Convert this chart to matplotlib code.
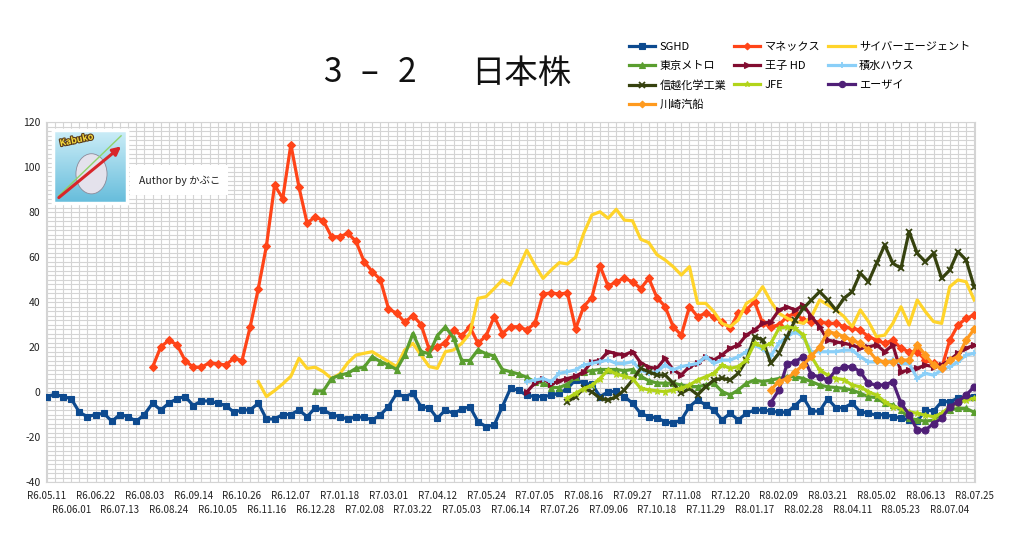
import numpy as np
import matplotlib
matplotlib.use('Agg')
import matplotlib.pyplot as plt
from matplotlib.patches import Rectangle, Ellipse
import matplotlib.patheffects as pe

plt.rcParams['font.family'] = ['Noto Sans CJK JP', 'DejaVu Sans']

# ---------------- data ----------------
tick_labels = ["R6.05.11", "R6.06.01", "R6.06.22", "R6.07.13", "R6.08.03", "R6.08.24",
               "R6.09.14", "R6.10.05", "R6.10.26", "R6.11.16", "R6.12.07", "R6.12.28",
               "R7.01.18", "R7.02.08", "R7.03.01", "R7.03.22", "R7.04.12", "R7.05.03",
               "R7.05.24", "R7.06.14", "R7.07.05", "R7.07.26", "R7.08.16", "R7.09.06",
               "R7.09.27", "R7.10.18", "R7.11.08", "R7.11.29", "R7.12.20", "R8.01.17",
               "R8.02.09", "R8.02.28", "R8.03.21", "R8.04.11", "R8.05.02", "R8.05.23",
               "R8.06.13", "R8.07.04", "R8.07.25"]
weeks_per_label = 3
n_points = (len(tick_labels) - 1) * weeks_per_label + 1

sghd = [-2, -1, -2, -3, -9, -11, -10, -9.5, -13, -10, -11, -13, -10, -5, -8, -5, -3, -2, -6, -4,
        -4, -5, -6, -9, -8, -8, -5, -12, -12, -10, -10, -8, -11, -7, -8, -10, -11, -12, -11,
        -11.3, -12.4, -10.2, -6.5, -0.6, -2.1, -0.6, -6.5, -7, -11.7, -8, -9.5, -7.7, -6.5,
        -13.2, -15.4, -14.7, -6.5, 1.6, 0.8, -1.5, -2, -2, -1.5, -0.5, 1.5, 5.5, 3.8, 3.5, -2,
        0, 0.3, -2, -5, -9.5, -11, -11.5,
        -13.2, -13.9, -12.4, -6.5, -3.5, -5.8, -8, -12.4, -9.5, -12.4, -9.5, -8, -8, -8.5, -9,
        -9, -6, -2.5, -8.5, -8.5, -3, -7, -7, -5, -8.8, -9.5, -10.3, -10, -11, -11.5, -12.5,
        -13, -8, -8.5, -4.3, -4.3, -2.8, -2.1, -2]

monex = [None] * 13 + [
    11, 20, 23, 21, 14, 11, 11, 13, 12.5, 12, 15, 14, 29, 46, 65, 92, 86, 110, 91, 75, 78, 76,
    69, 69, 70.5, 67,
    58, 53.5, 50, 37, 35, 31, 34, 30, 19, 20, 22, 27.6, 25, 29, 21.6, 25, 33.5, 26, 29, 29, 27.6,
    30.5, 43.6, 44, 43.6, 44, 28, 38, 42, 56, 47, 49, 50.5, 49, 46, 50.5,
    42, 38, 29, 25.3, 38, 33.5, 35, 33.5, 31.3, 28.3, 35, 36.5, 40.2, 30.5, 29, 29.8, 33.5, 35,
    32, 31.3, 31.2, 30.5, 30.5, 29, 28.3, 27.5, 24.6, 23.1, 21.6, 23.1, 19.4, 17.9, 17.9, 14.2,
    12.7, 10.5, 23.1, 29.7, 32.7, 34.2]

cyberagent = [None] * 26 + [
    4.6, -2, 0.6, 3.6, 7, 15, 10.5, 11, 9, 6, 8, 13, 16.4, 17.2, 17.9, 15.7, 13.5, 11.3, 18.7,
    21.6, 16.4, 11.3, 10.5, 17.9, 18.7, 21.6, 26, 41.6, 42.4, 46, 49.8, 47.6, 55, 63, 56.4, 50.5,
    54.2, 57.5, 56.9, 59.9, 70.5, 78.7, 80.1, 77.2, 81.2, 76.4, 76.1, 67.9, 66.4, 61, 58.7, 55.7,
    52, 55.7, 39.4, 39.4, 35.7, 30.5, 29, 32, 39.4, 41.6, 46.8, 40.2, 35, 32.8, 31.3, 30.5, 33.5,
    40.9, 38.7, 36.5, 33.5, 29, 36.5, 31.3, 24.6, 25.3, 30.5, 37.9, 29.8, 40.9, 35.7, 31.3, 30.5,
    46.8, 49.8, 49, 40.9]

tokyo_metro = [None] * 33 + [
    0.5, 0.5, 6, 7.5, 8.3, 10.5, 11, 15.7, 13.5, 12, 10, 16.4, 26, 18, 17, 25, 29, 24, 14, 14,
    18.7, 17, 16, 10, 9, 8, 6.5, 4.5, 4, 2, 2, 3.5, 6.5, 9, 9.5, 10, 10, 10, 9.5, 10, 7, 5, 4,
    3.9, 3.9, 3.1, 2.4, 2.4, 3.1, 3.9, 0.2, -1.3, 0.9, 3.9, 5.3, 4.6, 5.3, 6, 6.8, 6.8, 6, 4.6,
    3.1, 2.3, 2, 1.6, 0.9, -0.6, -2.1, -2.5, -5, -5.8, -8, -11.7, -12.4, -13, -12.5, -9.5, -8,
    -7.3, -7.3, -9]

oji = [None] * 59 + [
    0, 4, 6, 3.5, 5, 6, 7, 9, 13.5, 14, 18, 17, 16.5, 18, 13, 11, 10.5, 15, 9.8, 7.6, 11.3, 12.7,
    15.7, 14.2, 16.5, 19.4, 20.9, 25.3, 27.6, 30.5, 31.2, 36.4, 37.9, 36.4, 38.6, 33.5, 29, 23.1,
    22.3, 21.6, 20.9, 19.4, 20.1, 20.9, 17.9, 20.9, 9, 9.7, 10.5, 12, 11.2, 12, 14.2, 17.2, 19.4,
    20.9]

sekisui = [None] * 59 + [
    4.6, 5.3, 6, 4.6, 8.3, 9, 9.8, 12, 12.7, 13.5, 14.2, 12.7, 12.7, 13.5, 9.8, 8.3, 9, 12, 9.8,
    11.3, 12, 12.7, 15.7, 12.7, 14.2, 14.2, 15.7, 17.9, 20.9, 19, 16, 21.6, 24.6, 26.8, 24.6,
    17.9, 17.9, 17.9, 17.9, 18.6, 18.6, 15.7, 13.4, 13.4, 13.4, 14.2, 12.7, 12.7, 6, 8.3, 7.5,
    9.7, 11.2, 13.4, 16.4, 17.2]

shinetsu = [None] * 64 + [
    -4.3, -2.1, 1.6, 0.1, -2.8, -3.6, -2.1, 0.9, 5.3, 10.5, 9, 7.5, 7.6, 3.9, -0.6, 1.6, -1.3,
    2.4, 5.3, 6.1, 5.3, 8.3, 14.2, 24.6, 23.1, 12.7, 17.2, 24.6, 32, 37.2, 40.9, 44.6, 40.9,
    36.5, 41.6, 44.6, 52.8, 49, 57.2, 65.3, 57.2, 55, 71.3, 61.6, 57.9, 61.6, 50.5, 54.2, 62.4,
    58.7, 46.8]

jfe = [None] * 64 + [
    -2.8, -0.6, 1.5, 3, 6, 9.8, 8, 7, 6, 1.6, 1, 0.5, 0.2, 0.9, 1.6, 3.1, 5.3, 6.8, 8.3, 12,
    10.5, 11.3, 14.2, 21.6, 20.1, 21.6, 28.3, 29, 28.3, 25.3, 15.7, 9.7, 7.5, 6, 5.5, 3.1, 2.3,
    0.1, -1.4, -4.3, -6.6, -7, -8.8, -9.5, -10.3, -11, -9.5, -6.6, -5, -3.6, -2.8]

eisai = [None] * 89 + [
    -4.7, 0.9, 12.5, 13.5, 15.7, 7.6, 6.8, 5.3, 9.7, 11.2, 11.2, 9, 3.8, 3.1, 3.1, 4.6, -5, -10,
    -16.9, -16.9, -14, -11.7, -6.6, -4.3, -1.4, 2.3]

kawasaki = [None] * 89 + [
    1, 4.6, 6, 9, 12, 16, 20, 26.8, 26, 24.6, 23, 21.6, 18.6, 14.2, 13.4, 13.4, 14.2, 14.2, 21,
    16.4, 12, 10.5, 14.2, 15.7, 23, 28]

series = [
    ("SGHD", sghd, '#0D4A8F', 's', 5.0),
    ("マネックス", monex, '#FF4418', 'D', 3.8),
    ("サイバーエージェント", cyberagent, '#FFD42A', '', 0),
    ("東京メトロ", tokyo_metro, '#5A9E2F', '^', 4.5),
    ("王子 HD", oji, '#820C30', '>', 4.2),
    ("積水ハウス", sekisui, '#8ACFF8', '+', 4.5),
    ("信越化学工業", shinetsu, '#36420F', 'x', 4.5),
    ("JFE", jfe, '#B2D41A', '*', 4.5),
    ("エーザイ", eisai, '#4F1F77', 'o', 5.0),
    ("川崎汽船", kawasaki, '#FF9A1E', 'D', 3.8),
]

# ---------------- figure ----------------
W, H = 1024, 533
fig = plt.figure(figsize=(W / 100, H / 100), dpi=100)
fig.patch.set_facecolor('white')

ax_l, ax_r, ax_t, ax_b = 46, 975, 122, 482
ax_h = ax_b - ax_t
ax = fig.add_axes([ax_l / W, 1 - ax_b / H, (ax_r - ax_l) / W, ax_h / H])

x = np.arange(n_points)
handles = {}
for name, vals, col, mk, ms in series:
    y = np.array([np.nan if v is None else v for v in vals], dtype=float)
    ln, = ax.plot(x, y, color=col, lw=2.3, marker=mk if mk else None, markersize=ms,
                  markeredgewidth=1.3 if mk in ('+', 'x') else 0.8,
                  markeredgecolor=col, markerfacecolor=col, solid_joinstyle='round',
                  zorder=3)
    handles[name] = ln

ax.set_xlim(-0.1, n_points - 1 + 0.1)
ax.set_ylim(-40, 120)

# grid: one vertical line per week, horizontal every 2
ax.set_xticks(x)
ax.set_xticklabels([])
ax.set_yticks(np.arange(-40, 121, 20))
ax.set_yticks(np.arange(-40, 121, 2), minor=True)
ax.set_yticklabels([str(v) for v in range(-40, 121, 20)], fontsize=7.5, color='#222222')
ax.tick_params(axis='both', which='both', length=0)
ax.tick_params(axis='y', pad=4)
ax.grid(True, which='major', color='#D4D4D4', lw=0.8)
ax.yaxis.grid(True, which='minor', color='#D4D4D4', lw=0.8)
ax.set_axisbelow(True)
for s in ax.spines.values():
    s.set_color('#D4D4D4')
    s.set_linewidth(0.8)

# date labels in two staggered rows
row_off = [14 / ax_h, 28 / ax_h]
for k, lab in enumerate(tick_labels):
    ax.text(k * weeks_per_label, -row_off[k % 2], lab, transform=ax.get_xaxis_transform(),
            ha='center', va='center', fontsize=7, color='#222222', clip_on=False)

# title
title_parts = [("3", 332), ("–", 369.5), ("2", 406.5), ("日本株", 521)]
for txt, cx in title_parts:
    fig.text(cx / W, 1 - 73 / H, txt, ha='center', va='center', fontsize=24,
             color='#111111')

# legend (3 columns, filled column-wise)
order = ["SGHD", "東京メトロ", "信越化学工業", "川崎汽船",
         "マネックス", "王子 HD", "JFE",
         "サイバーエージェント", "積水ハウス", "エーザイ"]
leg = fig.legend([handles[n] for n in order], order, loc='upper left',
                 bbox_to_anchor=(629 / W, 1 - 41.5 / H), ncol=3, frameon=False,
                 fontsize=8, handlelength=2.35, handletextpad=0.4, columnspacing=0.72,
                 labelspacing=0.82, borderpad=0, borderaxespad=0, markerscale=0.9)

# logo picture box and author box
lx0, ly0, lx1, ly1 = 53, 130, 127, 203
fig.patches.append(Rectangle((lx0 / W + 2 / W, 1 - ly1 / H - 2 / H), (lx1 - lx0) / W,
                             (ly1 - ly0) / H, transform=fig.transFigure,
                             facecolor='#CFCFCF', edgecolor='none', zorder=4))
lax = fig.add_axes([lx0 / W, 1 - ly1 / H, (lx1 - lx0) / W, (ly1 - ly0) / H], zorder=5)
grad = np.linspace(0, 1, 64)[:, None] * np.ones((1, 64))
top = np.array([0.80, 0.93, 0.97])
bot = np.array([0.40, 0.74, 0.86])
img = top[None, None, :] * (1 - grad[..., None]) + bot[None, None, :] * grad[..., None]
lax.imshow(img, extent=(0, 1, 0, 1), aspect='auto')
lax.plot([0.08, 0.92], [0.10, 0.92], color='#8FD36A', lw=1.0)
lax.annotate("", xy=(0.95, 0.80), xytext=(0.05, 0.05),
             arrowprops=dict(arrowstyle='-|>', color='#D8262A', lw=2.2, mutation_scale=12))
lax.add_patch(Ellipse((0.52, 0.40), 0.42, 0.55, facecolor='#E4E2EC', edgecolor='#8C8A99',
                      lw=0.6))
lax.text(0.08, 0.86, "Kabuko", fontsize=6.5, fontweight='bold', color='#F6DA3C', rotation=12,
         ha='left', va='center',
         path_effects=[pe.withStroke(linewidth=1.6, foreground='#5A3B1A')])
lax.set_xlim(0, 1)
lax.set_ylim(0, 1)
lax.set_xticks([])
lax.set_yticks([])
for s in lax.spines.values():
    s.set_color('white')
    s.set_linewidth(2.5)

fig.patches.append(Rectangle((130 / W, 1 - 195 / H), 98 / W, 30 / H, transform=fig.transFigure,
                             facecolor='white', edgecolor='none', zorder=4))
fig.text(139 / W, 1 - 181 / H, "Author by かぶこ", ha='left', va='center', fontsize=7.5,
         color='#222222', zorder=6)

fig.savefig('out.png', dpi=100, facecolor='white')
